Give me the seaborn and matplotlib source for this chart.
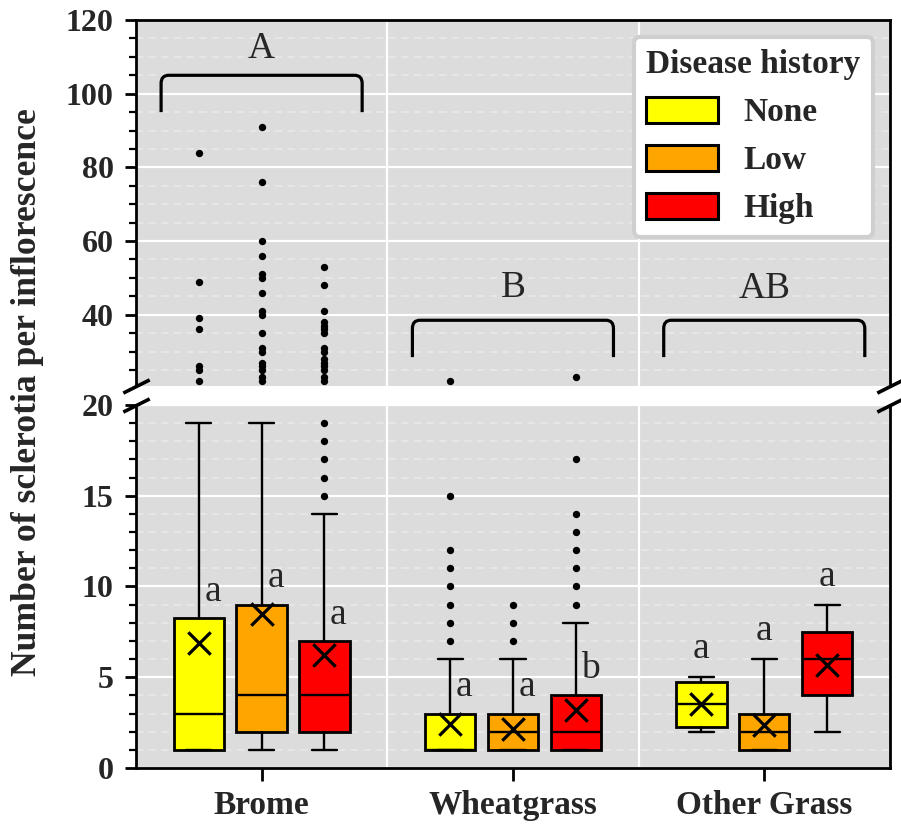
import numpy as np
import pandas as pd
import matplotlib
matplotlib.use("Agg")
import matplotlib.pyplot as plt
from matplotlib.path import Path
from matplotlib.patches import PathPatch, Patch
from matplotlib.ticker import MultipleLocator
import seaborn as sns

# ---- data -------------------------------------------------------------
grasses = ["Brome", "Wheatgrass", "Other Grass"]
history = ["None", "Low", "High"]
palette = ["#FFFF00", "#FFA500", "#FF0000"]

# box statistics, grass-major order, disease history None / Low / High
whisker_low = [1, 1, 1, 1, 1, 1, 2, 1, 2]
q1 = [1, 2, 2, 1, 1, 1, 2.25, 1, 4]
median = [3, 4, 4, 1, 2, 2, 3.5, 2, 6]
q3 = [8.25, 9, 7, 3, 3, 4, 4.75, 3, 7.5]
whisker_high = [19, 19, 14, 6, 6, 8, 5, 6, 9]
means = [6.9, 8.5, 6.2, 2.4, 2.15, 3.2, 3.5, 2.35, 5.65]
outliers = [
    [22, 25, 26, 36, 39, 49, 84],
    [22, 23, 25, 26, 27, 30, 31, 35, 40, 41, 46, 50, 51, 56, 60, 76, 91],
    [15, 16, 17, 18, 19, 22, 23, 25, 26, 27, 28, 30, 31, 35, 36, 37, 38,
     41, 48, 53],
    [7, 8, 9, 10, 11, 12, 15, 22],
    [7, 8, 9],
    [9, 10, 11, 12, 13, 14, 17, 23],
    [],
    [],
    [],
]
box_letters = ["a", "a", "a", "a", "a", "b", "a", "a", "a"]
grass_letters = ["A", "B", "AB"]

# ---- style ------------------------------------------------------------
sns.set_style("darkgrid", {"axes.facecolor": "#DCDCDC", "grid.color": "white"})
plt.rcParams["font.family"] = ["Liberation Serif", "DejaVu Serif"]
plt.rcParams["font.weight"] = "bold"

BG = "#DCDCDC"
MINOR = "#E8E8E8"

fig = plt.figure(figsize=(9.01, 8.25), dpi=100)
fig.patch.set_facecolor("white")
ax_top = fig.add_axes([0.1509, 0.5321, 0.8368, 0.4436])
ax_bot = fig.add_axes([0.1509, 0.0691, 0.8368, 0.4400])

offsets = [-0.25, 0.0, 0.25]
positions = [g + o for g in range(len(grasses)) for o in offsets]
hist_of_box = [history[i % 3] for i in range(9)]

stats = [
    dict(whislo=whisker_low[i], q1=q1[i], med=median[i], q3=q3[i],
         whishi=whisker_high[i], fliers=[])
    for i in range(9)
]

flier_df = pd.DataFrame(
    [(positions[i], v) for i in range(9) for v in outliers[i]],
    columns=["pos", "value"],
)
mean_df = pd.DataFrame({"pos": positions, "mean": means, "history": hist_of_box})

for ax in (ax_top, ax_bot):
    ax.set_facecolor(BG)
    bp = ax.bxp(
        stats, positions=positions, widths=0.2, capwidths=0.1,
        patch_artist=True, showfliers=False, manage_ticks=False,
        boxprops=dict(linewidth=2.0, edgecolor="black"),
        whiskerprops=dict(linewidth=1.7, color="black"),
        capprops=dict(linewidth=1.7, color="black"),
        medianprops=dict(linewidth=1.7, color="black"),
    )
    for i, patch in enumerate(bp["boxes"]):
        patch.set_facecolor(palette[i % 3])
        patch.set_zorder(3)
    for key in ("whiskers", "caps", "medians"):
        for ln in bp[key]:
            ln.set_zorder(3.5)

    sns.scatterplot(data=flier_df, x="pos", y="value", color="black", s=28,
                    linewidth=0, ax=ax, legend=False, zorder=4)
    sns.scatterplot(data=mean_df, x="pos", y="mean", marker="x", color="black",
                    s=260, linewidth=2.3, ax=ax, legend=False, zorder=5)

    ax.set_xlim(-0.5, 2.5)
    ax.set_xlabel("")
    ax.set_ylabel("")
    ax.grid(False)
    ax.grid(True, axis="y", which="major", color="white", linewidth=1.6)
    ax.grid(True, axis="y", which="minor", color=MINOR, linewidth=1.3,
            linestyle=(0, (4, 3)))
    # separators between the grass groups
    for xs in (0.5, 1.5):
        ax.axvline(xs, color="white", linewidth=1.6, zorder=0.8)
    ax.set_axisbelow(True)
    for s in ax.spines.values():
        s.set_color("black")
        s.set_linewidth(2.0)
        s.set_visible(True)
    ax.tick_params(axis="y", which="major", length=8, width=2, color="black",
                   labelsize=23, pad=8, left=True)
    ax.tick_params(axis="y", which="minor", length=5, width=1.6, color="black",
                   left=True)

# upper panel: the long tail of counts
ax_top.set_ylim(20.65, 120)
ax_top.yaxis.set_major_locator(MultipleLocator(20))
ax_top.yaxis.set_minor_locator(MultipleLocator(5))
ax_top.spines["bottom"].set_visible(False)
ax_top.tick_params(axis="x", which="both", bottom=False, labelbottom=False)

# lower panel: 0-20
ax_bot.set_ylim(0, 20)
ax_bot.yaxis.set_major_locator(MultipleLocator(5))
ax_bot.yaxis.set_minor_locator(MultipleLocator(1))
ax_bot.spines["top"].set_visible(False)
ax_bot.set_xticks(range(len(grasses)))
ax_bot.set_xticklabels(grasses, fontsize=24, fontweight="bold")
ax_bot.tick_params(axis="x", which="major", length=9, width=2, color="black",
                   pad=7, bottom=True)

for ax in (ax_top, ax_bot):
    for lab in ax.get_yticklabels():
        lab.set_fontweight("bold")

# break marks on both sides
mk = dict(marker=[(-1, -0.5), (1, 0.5)], markersize=19, linestyle="none",
          color="black", mec="black", mew=2.6, clip_on=False, zorder=10)
ax_top.plot([0, 1], [0, 0], transform=ax_top.transAxes, **mk)
ax_bot.plot([0, 1], [1, 1], transform=ax_bot.transAxes, **mk)

# compact-letter brackets over each grass
bracket_bottom = [95, 28.5, 28.5]
bracket_top = [105, 38.5, 38.5]
letter_base = [109.7, 44.9, 44.6]


def draw_bracket(ax, xc, ylo, yhi, half=0.4, rx=0.03, ry=2.2):
    x0, x1 = xc - half, xc + half
    verts = [(x0, ylo), (x0, yhi - ry), (x0, yhi), (x0 + rx, yhi),
             (x1 - rx, yhi), (x1, yhi), (x1, yhi - ry), (x1, ylo)]
    codes = [Path.MOVETO, Path.LINETO, Path.CURVE3, Path.CURVE3,
             Path.LINETO, Path.CURVE3, Path.CURVE3, Path.LINETO]
    ax.add_patch(PathPatch(Path(verts, codes), facecolor="none",
                           edgecolor="black", linewidth=2.3, zorder=6))


for g in range(len(grasses)):
    draw_bracket(ax_top, g, bracket_bottom[g], bracket_top[g])
    ax_top.text(g, letter_base[g], grass_letters[g], ha="center",
                va="baseline", fontsize=27, fontweight="normal", zorder=7)

# letters for each disease-history box
beside_whisker = [True, True, False]
for i in range(9):
    g = i // 3
    if beside_whisker[g]:
        ax_bot.text(positions[i] + 0.022, q3[i] + 0.95, box_letters[i],
                    ha="left", va="baseline", fontsize=27,
                    fontweight="normal", zorder=7)
    else:
        ax_bot.text(positions[i], whisker_high[i] + 1.05, box_letters[i],
                    ha="center", va="baseline", fontsize=27,
                    fontweight="normal", zorder=7)

# legend
handles = [Patch(facecolor=c, edgecolor="black", linewidth=2.2) for c in palette]
leg = ax_top.legend(
    handles, history, title="Disease history", loc="upper right",
    prop={"weight": "bold", "size": 24},
    title_fontproperties={"weight": "bold", "size": 24},
    frameon=True, fancybox=True, framealpha=1.0, facecolor="white",
    edgecolor="#CFCFCF", handlelength=2.15, handleheight=0.8,
    handletextpad=0.75, labelspacing=0.5, borderpad=0.38,
    borderaxespad=0.5,
)
leg._legend_box.align = "left"
leg.get_frame().set_linewidth(3)
leg.set_zorder(20)

fig.text(0.030, 0.525, "Number of sclerotia per inflorescence", rotation=90,
         ha="center", va="center", fontsize=25.7, fontweight="bold")

fig.savefig("out.png", dpi=100, facecolor="white")
